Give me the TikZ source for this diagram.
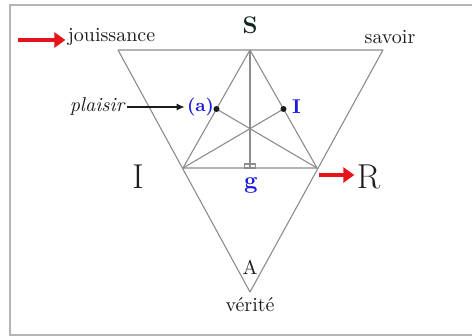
\documentclass[tikz,border=0pt]{standalone}
\usepackage{tikz}
\usetikzlibrary{arrows.meta, positioning, calc}
\definecolor{cInk}{HTML}{1c1c1c}
\definecolor{cS}{HTML}{0f2a1c}
\definecolor{cLine}{HTML}{8c8c8c}
\definecolor{cFrame}{HTML}{b4b4b4}
\definecolor{cRed}{HTML}{e8141c}
\definecolor{cBlue}{HTML}{1c1ce0}
\tikzset{
  tri/.style={draw=cLine, line width=0.55pt, line join=round},
  redarrow/.style={-{Triangle[length=5.5pt,width=7.5pt]}, draw=cRed, line width=1.6pt},
  pointer/.style={-{Latex[length=4pt,width=3.5pt]}, draw=cInk, line width=0.6pt},
  lbl/.style={inner sep=1pt, text=cInk},
  bluelbl/.style={inner sep=1pt, text=cBlue, font=\bfseries},
  bigl/.style={inner sep=1pt, text=cInk, font=\LARGE},
  mdot/.style={circle, fill=cInk, inner sep=0pt, minimum size=3pt},
}

\begin{document}
\begin{tikzpicture}[x=0.5pt, y=-0.5pt]
\clip (0,0) rectangle (472,336);

% ===================== frame =====================
\draw[cFrame, line width=1pt] (10,5) rectangle (490,335);

% ===================== triangles =====================
\coordinate (tl) at (118,50);
\coordinate (tr) at (383,50);
\coordinate (bot) at (250,292);
\coordinate (sv) at (250,50);
\coordinate (iv) at (183,168);
\coordinate (rv) at (317,168);
\coordinate (mbase) at ($(iv)!0.5!(rv)$);
\coordinate (mleft) at ($(sv)!0.5!(iv)$);
\coordinate (mright) at ($(sv)!0.5!(rv)$);

\draw[tri] (tl) -- (tr) -- (bot) -- cycle;
\draw[tri] (sv) -- (iv) -- (rv) -- cycle;
\draw[tri] (sv) -- (mbase);
\draw[tri] (iv) -- (mright);
\draw[tri] (rv) -- (mleft);
\draw[tri] ($(mbase)+(-5.5,-4)$) rectangle ($(mbase)+(5.5,0)$);
\node[mdot] (dl) at (mleft) {};
\node[mdot] (dr) at (mright) {};

% ===================== labels =====================
\node[inner sep=1pt, text=cS, font=\large\bfseries] (s) at (250,25) {S};
\node[lbl] (jou) at (111.5,37) {jouissance};
\node[lbl] (sav) at (390,37) {savoir};
\node[lbl, font=\itshape] (pla) at (97,107) {plaisir};
\node[bluelbl, font=\small\bfseries] (a) at (200.5,107) {(a)};
\node[bluelbl] (ib) at (296.5,107) {I};
\node[bigl] (ibig) at (138,177) {I};
\node[bigl] (r) at (368.5,177) {R};
\node[bluelbl, font=\large\bfseries] (g) at (251,185) {g};
\node[lbl] (av) at (250,267) {A};
\node[lbl] (ver) at (250,305) {vérité};

% ===================== arrows =====================
\coordinate (jstart) at (18,40);
\coordinate (rstart) at (319,175);
\draw[redarrow] (jstart) -- (jstart-|jou.west);
\draw[redarrow] (rstart) -- (rstart-|r.west);
\draw[pointer] (pla.east) -- (a.west);

\end{tikzpicture}
\end{document}
